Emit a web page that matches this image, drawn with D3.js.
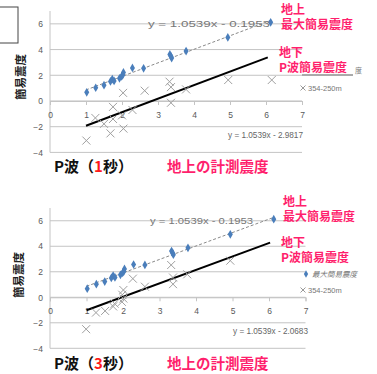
<!DOCTYPE html>
<html>
<head>
<meta charset="utf-8">
<script src="https://cdn.jsdelivr.net/npm/d3@7"></script>
<style>
  html, body { margin: 0; padding: 0; background: #fff; }
  svg { display: block; }
</style>
</head>
<body>
<svg id="chart" width="377" height="374"></svg>
<script>
// Ground measured intensity (x) vs. ground maximum simple intensity (y)
const groundX   = [1.02, 1.27, 1.50, 1.68, 1.73, 1.78, 1.93, 1.99, 2.02, 2.04, 2.29, 2.60, 3.33, 3.36, 3.38, 3.78, 4.94, 6.13];
const groundMax = [0.67, 1.03, 1.23, 1.52, 1.70, 1.56, 1.76, 1.92, 2.02, 2.22, 2.57, 2.54, 3.62, 3.48, 3.34, 3.88, 4.94, 6.12];

// Borehole P-wave simple intensity, 1 s window
const p1X = [1.01, 1.26, 1.50, 1.68, 1.75, 1.75, 2.00, 2.03, 2.04, 2.29, 2.63, 3.32, 3.36, 3.36, 3.78, 4.95, 6.16];
const p1Y = [-3.08, -1.32, -1.78, -2.52, -0.46, -1.40, -1.12, 0.63, -2.15, -0.70, 0.80, 1.50, 1.08, -0.14, 0.90, 1.63, 1.63];

// Borehole P-wave simple intensity, 3 s window
const p3X = [0.99, 1.26, 1.51, 1.73, 1.77, 1.98, 2.01, 2.01, 1.97, 2.27, 2.60, 3.32, 3.37, 3.37, 3.76, 4.94];
const p3Y = [-2.50, -1.20, -1.07, -0.72, -0.50, 0.20, 0.57, -0.10, -0.36, 1.46, 0.83, 2.53, 1.55, 1.03, 1.80, 2.87];

// Linear fits
const slope = 1.0539;
const groundIntercept = -0.1953;
const p1Intercept = -2.9817;
const p3Intercept = -2.0683;

const xTicks = [0, 1, 2, 3, 4, 5, 6, 7];
const yTicks = [-4, -2, 0, 2, 4, 6];
const legendSeries = ["最大簡易震度", "354-250m"];

const svg = d3.select("#chart");
const pink = "#ff1f6d";
const gridColor = "#c4c4c4";
const labelColor = "#595959";

function diamond(g, xs, ys, x, y) {
  g.selectAll("path.dm").data(xs).join("path")
    .attr("class", "dm")
    .attr("d", d3.symbol(d3.symbolDiamond, 22)())
    .attr("transform", (d, i) => `translate(${x(d)},${y(ys[i])})`)
    .attr("fill", "#4a7ebb");
}

function crosses(g, xs, ys, x, y) {
  g.selectAll("path.cx").data(xs).join("path")
    .attr("class", "cx")
    .attr("d", "M-4,-4L4,4M-4,4L4,-4")
    .attr("transform", (d, i) => `translate(${x(d)},${y(ys[i])})`)
    .attr("fill", "none")
    .attr("stroke", "#a0a0a0")
    .attr("stroke-width", 1);
}

function drawPanel(cfg) {
  const x = d3.scaleLinear().domain([0, 7]).range([50, cfg.xRight]);
  const y = d3.scaleLinear().domain([-4, 7]).range([cfg.yBottom, cfg.yTop]);
  const g = svg.append("g");

  // horizontal gridlines
  g.selectAll("line.grid").data(yTicks).join("line")
    .attr("x1", x(0)).attr("x2", x(7))
    .attr("y1", d => y(d)).attr("y2", d => y(d))
    .attr("stroke", gridColor).attr("stroke-width", 1);

  // vertical axis
  g.append("line")
    .attr("x1", x(0)).attr("x2", x(0))
    .attr("y1", y(7)).attr("y2", y(-4))
    .attr("stroke", gridColor);

  // horizontal axis crossing at zero, ticks pointing down
  g.append("g")
    .attr("transform", `translate(0,${y(0)})`)
    .call(d3.axisBottom(x).tickValues(xTicks).tickSize(4).tickPadding(7).tickFormat(d3.format("d")))
    .call(a => a.select(".domain").attr("stroke", gridColor))
    .call(a => a.selectAll(".tick line").attr("stroke", gridColor))
    .call(a => a.selectAll(".tick text")
      .attr("fill", labelColor).attr("font-size", 8.5)
      .attr("font-family", "Liberation Sans, Arial, sans-serif"));

  // y tick labels
  g.append("g")
    .attr("transform", `translate(${x(0)},0)`)
    .call(d3.axisLeft(y).tickValues(yTicks).tickSize(0).tickPadding(7))
    .call(a => a.select(".domain").remove())
    .call(a => a.selectAll(".tick text")
      .attr("fill", labelColor).attr("font-size", 8.5)
      .attr("font-family", "Liberation Sans, Arial, sans-serif"));

  // y axis title
  g.append("text")
    .attr("transform", `translate(${cfg.titleX},${cfg.titleY}) rotate(-90)`)
    .attr("text-anchor", "middle")
    .attr("font-family", "Noto Sans CJK JP, sans-serif")
    .attr("font-weight", "bold")
    .attr("font-size", 11.5)
    .attr("fill", "#222")
    .text("簡易震度");

  // trendlines
  const fit = (b, x0, x1) => [[x0, slope * x0 + b], [x1, slope * x1 + b]];
  const seg = d3.line().x(d => x(d[0])).y(d => y(d[1]));
  g.append("path")
    .attr("d", seg(fit(groundIntercept, 1.0, 6.13)))
    .attr("stroke", "#8a8a8a").attr("stroke-width", 1).attr("stroke-dasharray", "3,2")
    .attr("fill", "none");
  g.append("path")
    .attr("d", seg(fit(cfg.intercept, 1.0, cfg.fitEnd)))
    .attr("stroke", "#000").attr("stroke-width", 2)
    .attr("fill", "none");

  crosses(g, cfg.px, cfg.py, x, y);
  diamond(g, groundX, groundMax, x, y);

  // fit equations
  g.append("text")
    .attr("x", cfg.eq1X).attr("y", cfg.eq1Y)
    .attr("font-family", "Liberation Sans, Arial, sans-serif")
    .attr("font-size", 8.5).attr("fill", "#777")
    .attr("textLength", cfg.eq1Len).attr("lengthAdjust", "spacingAndGlyphs")
    .text("y = 1.0539x - 0.1953");
  g.append("text")
    .attr("x", cfg.eq2X).attr("y", cfg.eq2Y)
    .attr("font-family", "Liberation Sans, Arial, sans-serif")
    .attr("font-size", 8.5).attr("fill", "#666")
    .attr("textLength", 75).attr("lengthAdjust", "spacingAndGlyphs")
    .text(`y = 1.0539x - ${(-cfg.intercept).toFixed(4)}`);

  // legend
  const lg = g.append("g").attr("font-family", "Noto Sans CJK JP, sans-serif").attr("font-size", 7.5).attr("fill", "#777");
  if (cfg.fullLegend) {
    lg.append("path").attr("d", d3.symbol(d3.symbolDiamond, 16)())
      .attr("transform", `translate(306,${cfg.leg1Y})`).attr("fill", "#4a7ebb");
    lg.append("text").attr("x", 312).attr("y", cfg.leg1Y + 3).attr("font-style", "italic").text(legendSeries[0]);
  } else {
    lg.append("line").attr("x1", 302).attr("x2", 353).attr("y1", cfg.leg1Y).attr("y2", cfg.leg1Y)
      .attr("stroke", "#555").attr("stroke-width", 1);
    lg.append("text").attr("x", 355).attr("y", cfg.leg1Y - 2).attr("font-size", 7).text("度");
  }
  lg.append("path").attr("d", "M-2.5,-2.5L2.5,2.5M-2.5,2.5L2.5,-2.5")
    .attr("transform", `translate(303,${cfg.leg2Y})`).attr("stroke", "#999").attr("fill", "none");
  lg.append("text").attr("x", 308).attr("y", cfg.leg2Y + 3)
    .attr("font-family", "Liberation Sans, Arial, sans-serif").text(legendSeries[1]);

  // pink annotations
  const ann = g.append("g")
    .attr("font-family", "Noto Sans CJK JP, sans-serif")
    .attr("font-weight", "bold").attr("font-size", 12).attr("fill", pink);
  ann.append("text").attr("x", cfg.annX).attr("y", cfg.annY).text("地上");
  ann.append("text").attr("x", cfg.annX).attr("y", cfg.annY + 15).text("最大簡易震度");
  ann.append("text").attr("x", cfg.annX - 2).attr("y", cfg.annY + cfg.annGap).text("地下");
  ann.append("text").attr("x", cfg.annX - 2).attr("y", cfg.annY + cfg.annGap + 15).text("P波簡易震度");

  // bottom captions
  const cap = g.append("text")
    .attr("x", 54).attr("y", cfg.capY)
    .attr("font-family", "Noto Sans CJK JP, sans-serif")
    .attr("font-weight", "bold").attr("font-size", 15).attr("fill", "#111");
  cap.append("tspan").text("P波（");
  cap.append("tspan").attr("fill", "#ff1a1a").text(cfg.secs);
  cap.append("tspan").text("秒）");
  g.append("text")
    .attr("x", 167).attr("y", cfg.capY)
    .attr("font-family", "Noto Sans CJK JP, sans-serif")
    .attr("font-weight", "bold").attr("font-size", 14.5).attr("fill", pink)
    .text("地上の計測震度");
}

// small framed box at the top-left corner
svg.append("rect")
  .attr("x", -1).attr("y", 7).attr("width", 19).attr("height", 36)
  .attr("fill", "none").attr("stroke", "#444").attr("stroke-width", 1);

drawPanel({
  xRight: 302, yTop: 11, yBottom: 152.4,
  px: p1X, py: p1Y, intercept: p1Intercept, fitEnd: 6.05,
  titleX: 25, titleY: 77,
  eq1X: 148, eq1Y: 27, eq1Len: 122,
  eq2X: 228, eq2Y: 138,
  fullLegend: false, leg1Y: 75, leg2Y: 88,
  annX: 281, annY: 14, annGap: 43,
  capY: 172, secs: "1"
});

drawPanel({
  xRight: 305.5, yTop: 208, yBottom: 348.3,
  px: p3X, py: p3Y, intercept: p3Intercept, fitEnd: 6.03,
  titleX: 23, titleY: 275,
  eq1X: 150, eq1Y: 224, eq1Len: 103,
  eq2X: 233, eq2Y: 334,
  fullLegend: true, leg1Y: 274, leg2Y: 290,
  annX: 283, annY: 206, annGap: 41,
  capY: 369, secs: "3"
});
</script>
</body>
</html>
